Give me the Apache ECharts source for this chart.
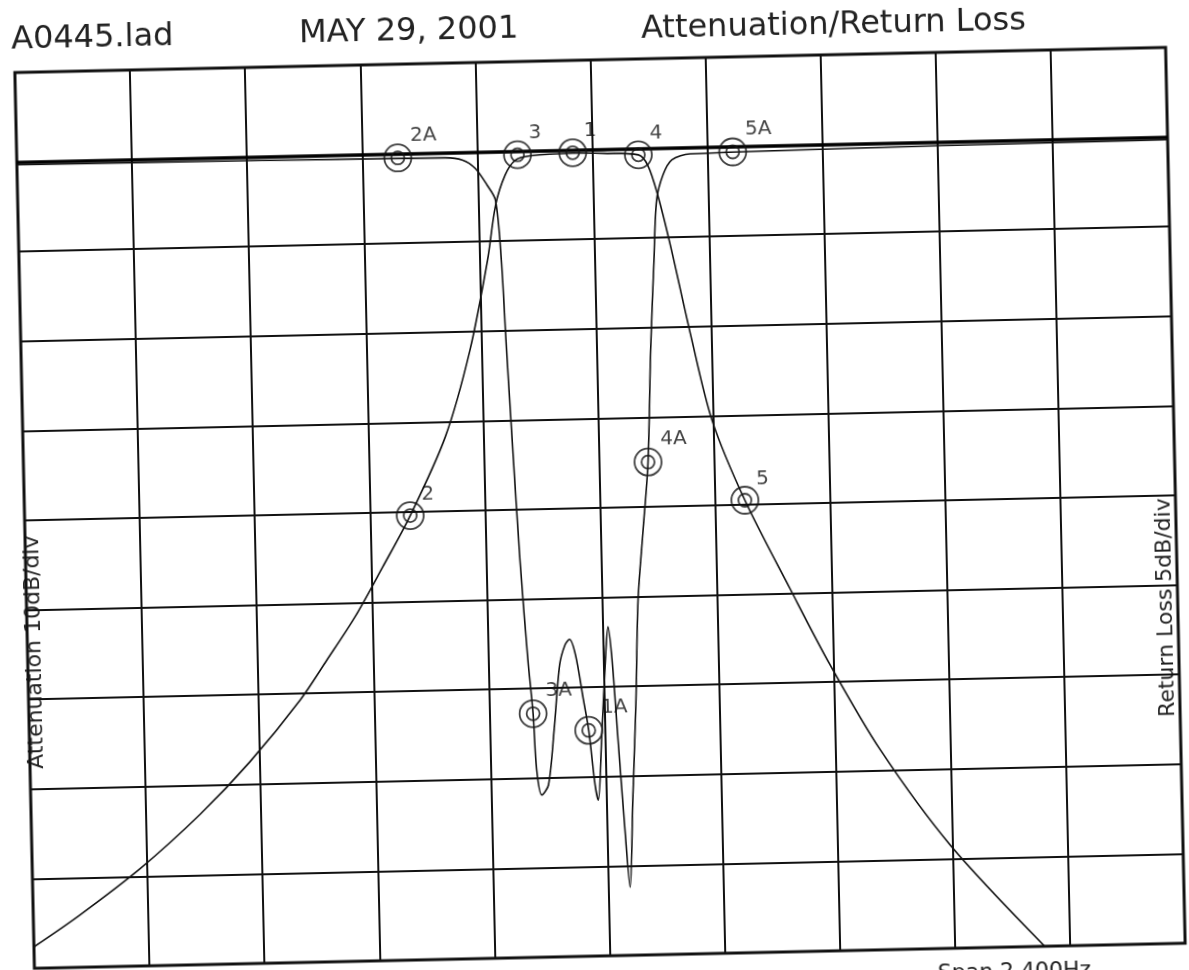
<!DOCTYPE html>
<html>
<head>
<meta charset="utf-8">
<title>Attenuation/Return Loss</title>
<script src="https://cdn.jsdelivr.net/npm/echarts@6/dist/echarts.min.js"></script>
<style>
  html, body { margin: 0; padding: 0; background: #fff; overflow: hidden; width: 1189px; height: 970px; }
  /* the scanned plot sits a little tilted on the page */
  #plot { width: 1189px; height: 1000px; transform-origin: 594.5px 485px; transform: rotate(-1.25deg); }
</style>
</head>
<body>
<div id="plot"></div>
<script>
// x in screen divisions (10 div across), attenuation in dB (10 dB/div), return loss in dB (5 dB/div)
const s21Freq = [0, 0.40, 0.94, 1.47, 1.91, 2.36, 2.60, 2.85, 3.10, 3.35, 3.67, 3.90, 4.07, 4.15, 4.24, 4.33, 4.46, 4.83, 5.10, 5.40, 5.48, 5.56, 5.66, 5.82, 5.99, 6.26, 6.64, 6.97, 7.39, 7.98, 8.78];
const s21Atten = [-87.6, -84.2, -79.1, -73.2, -67.5, -60.7, -56.3, -51.6, -46.1, -40.4, -31.7, -22.1, -12.1, -6.0, -2.6, -1.0, -0.55, -0.35, -0.45, -0.7, -1.9, -5.2, -10.8, -20.9, -30.5, -39.5, -49.6, -58.1, -67.7, -78.5, -90];

const s11Freq = [0, 3.72, 3.87, 3.98, 4.08, 4.15, 4.19, 4.215, 4.25, 4.295, 4.345, 4.38, 4.40, 4.44, 4.50, 4.56, 4.62, 4.67, 4.71, 4.76, 4.82, 4.86, 4.905, 4.93, 4.97, 5.025, 5.047, 5.076, 5.113, 5.156, 5.19, 5.23, 5.276, 5.313, 5.37, 5.426, 5.47, 5.516, 5.55, 5.61, 5.69, 5.85, 10];
const s11Loss = [-0.15, -0.28, -0.42, -0.9, -1.85, -2.7, -6.05, -10.5, -16.1, -22.8, -28.4, -31.4, -34.5, -35.95, -35.4, -32.3, -28.7, -27.6, -27.3, -28.2, -30.7, -32.4, -35.45, -36.3, -32.95, -27.9, -26.65, -28.5, -32.97, -38.0, -41.2, -36.3, -30.8, -25.2, -21.3, -17.5, -11.25, -6.23, -2.9, -1.5, -0.67, -0.36, -0.15];

const s21MarkerNames = ['3', '1', '4', '2', '5'];
const s21MarkerFreq = [4.35, 4.83, 5.40, 3.35, 6.26];
const s21MarkerAtten = [-0.4, -0.3, -0.7, -40.4, -39.5];

const s11MarkerNames = ['2A', '5A', '3A', '1A', '4A'];
const s11MarkerFreq = [3.31, 6.22, 4.38, 4.86, 5.426];
const s11MarkerLoss = [-0.23, -0.3, -31.4, -32.4, -17.5];

const FONT = 'DejaVu Sans';

function pairs(xs, ys) {
  return xs.map((x, i) => [x, ys[i]]);
}
function markerData(names, xs, ys) {
  return names.map((n, i) => ({
    name: n,
    value: [xs[i], ys[i]],
    label: { offset: n.length > 1 ? [26, -22] : [18, -21] }
  }));
}
function ringSeries(yIndex, data, size, withLabel) {
  return {
    type: 'scatter',
    yAxisIndex: yIndex,
    symbol: 'circle',
    symbolSize: size,
    data: data,
    z: 5,
    silent: true,
    itemStyle: { color: 'rgba(255,255,255,0)', borderColor: '#111', borderWidth: 1.8 },
    label: withLabel ? {
      show: true,
      position: 'inside',
      formatter: '{b}',
      fontFamily: FONT,
      fontSize: 20,
      color: '#111'
    } : { show: false }
  };
}

const chart = echarts.init(document.getElementById('plot'), null, { renderer: 'canvas' });

const s21Markers = markerData(s21MarkerNames, s21MarkerFreq, s21MarkerAtten);
const s11Markers = markerData(s11MarkerNames, s11MarkerFreq, s11MarkerLoss);

chart.setOption({
  backgroundColor: '#fff',
  animation: false,
  grid: {
    left: 24, right: 14, top: 60, bottom: 44,
    show: true, borderColor: '#111', borderWidth: 3, backgroundColor: 'transparent'
  },
  xAxis: {
    type: 'value', min: 0, max: 10, interval: 1,
    axisLine: { show: false }, axisTick: { show: false }, axisLabel: { show: false },
    splitLine: { show: true, lineStyle: { color: '#111', width: 2 } }
  },
  yAxis: [
    {
      type: 'value', min: -90, max: 10, interval: 10,
      axisLine: { show: false }, axisTick: { show: false }, axisLabel: { show: false },
      splitLine: { show: true, lineStyle: { color: '#111', width: 2 } }
    },
    {
      type: 'value', min: -45, max: 5, interval: 5, position: 'right',
      axisLine: { show: false }, axisTick: { show: false }, axisLabel: { show: false },
      splitLine: { show: false }
    }
  ],
  series: [
    {
      name: 'Attenuation',
      type: 'line',
      yAxisIndex: 0,
      data: pairs(s21Freq, s21Atten),
      smooth: 0.3,
      showSymbol: false,
      lineStyle: { color: '#111', width: 1.6 },
      markLine: {
        silent: true,
        symbol: 'none',
        label: { show: false },
        lineStyle: { color: '#000', width: 3.5, type: 'solid' },
        data: [{ yAxis: 0 }]
      }
    },
    {
      name: 'Return Loss',
      type: 'line',
      yAxisIndex: 1,
      data: pairs(s11Freq, s11Loss),
      smooth: 0.3,
      showSymbol: false,
      lineStyle: { color: '#111', width: 1.6 }
    },
    ringSeries(0, s21Markers, 27, true),
    ringSeries(0, s21Markers, 13, false),
    ringSeries(1, s11Markers, 27, true),
    ringSeries(1, s11Markers, 13, false)
  ],
  graphic: [
    { type: 'text', left: 21, top: 12, style: { text: 'A0445.lad', font: '32px "DejaVu Sans"', fill: '#222' } },
    { type: 'text', left: 309, top: 12, style: { text: 'MAY 29, 2001', font: '32px "DejaVu Sans"', fill: '#222' } },
    { type: 'text', left: 651, top: 15, style: { text: 'Attenuation/Return Loss', font: '32px "DejaVu Sans"', fill: '#222' } },
    {
      type: 'text', x: 31, y: 640, rotation: Math.PI / 2,
      style: { text: 'Attenuation 10dB/div', font: '22px "DejaVu Sans"', fill: '#222', align: 'center', verticalAlign: 'middle' }
    },
    {
      type: 'text', x: 1163, y: 620, rotation: Math.PI / 2,
      style: { text: 'Return Loss 5dB/div', font: '22px "DejaVu Sans"', fill: '#222', align: 'center', verticalAlign: 'middle' }
    },
    { type: 'text', x: 927, y: 970, style: { text: 'Span 2.400Hz', font: '22px "DejaVu Sans"', fill: '#222' } }
  ]
});
</script>
</body>
</html>
